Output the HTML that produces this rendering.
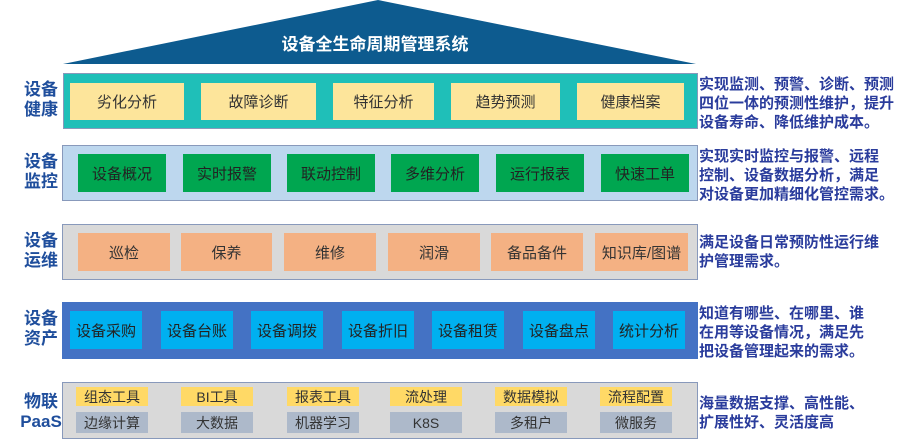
<!DOCTYPE html>
<html><head><meta charset="utf-8"><style>
body{margin:0;width:901px;height:442px;background:#fff;position:relative;overflow:hidden;font-family:"Liberation Sans","Noto Sans CJK SC",sans-serif}
div{position:absolute;box-sizing:border-box}
.b{display:flex;align-items:center;justify-content:center;font-size:15px;color:#333}
.row{border:1px solid #8899bb}
.lab{left:18px;width:46px;font-size:17px;font-weight:bold;color:#1f4e9c;line-height:20px;text-align:center}
.r{left:699px;font-size:15px;font-weight:bold;color:#2a3c9c;line-height:19px;width:202px;white-space:nowrap}
.y{background:#fde59b}.g{background:#00a650;color:#222}.o{background:#f4b183}.c{background:#00b0f0;color:#222}
.t{background:#ffd966;font-size:14px}.s{background:#adb9ca;font-size:14px}
</style></head><body>
<svg style="position:absolute;left:0;top:0" width="901" height="70"><polygon points="63,64 378,0 696,64" fill="#0d5b8f"/></svg>
<div style="left:225px;top:30px;width:300px;text-align:center;color:#fff;font-size:17px;font-weight:bold">设备全生命周期管理系统</div>

<div class="lab" style="top:80px">设备<br>健康</div>
<div class="row" style="left:63px;top:73px;width:635px;height:56px;background:#1fbfb8"></div>
<div class="b y" style="left:70px;top:83px;width:114px;height:37px">劣化分析</div>
<div class="b y" style="left:201px;top:83px;width:115px;height:37px">故障诊断</div>
<div class="b y" style="left:333px;top:83px;width:101px;height:37px">特征分析</div>
<div class="b y" style="left:451px;top:83px;width:109px;height:37px">趋势预测</div>
<div class="b y" style="left:577px;top:83px;width:107px;height:37px">健康档案</div>
<div class="r" style="top:75px">实现监测、预警、诊断、预测<br>四位一体的预测性维护，提升<br>设备寿命、降低维护成本。</div>

<div class="lab" style="top:152px">设备<br>监控</div>
<div class="row" style="left:62px;top:145px;width:636px;height:56px;background:#bdd7ee"></div>
<div class="b g" style="left:78px;top:154px;width:88px;height:38px">设备概况</div>
<div class="b g" style="left:183px;top:154px;width:88px;height:38px">实时报警</div>
<div class="b g" style="left:287px;top:154px;width:88px;height:38px">联动控制</div>
<div class="b g" style="left:391px;top:154px;width:88px;height:38px">多维分析</div>
<div class="b g" style="left:496px;top:154px;width:88px;height:38px">运行报表</div>
<div class="b g" style="left:601px;top:154px;width:88px;height:38px">快速工单</div>
<div class="r" style="top:147px">实现实时监控与报警、远程<br>控制、设备数据分析，满足<br>对设备更加精细化管控需求。</div>

<div class="lab" style="top:231px">设备<br>运维</div>
<div class="row" style="left:62px;top:224px;width:636px;height:56px;background:#d9d9d9"></div>
<div class="b o" style="left:78px;top:233px;width:92px;height:38px">巡检</div>
<div class="b o" style="left:181px;top:233px;width:91px;height:38px">保养</div>
<div class="b o" style="left:284px;top:233px;width:92px;height:38px">维修</div>
<div class="b o" style="left:388px;top:233px;width:92px;height:38px">润滑</div>
<div class="b o" style="left:491px;top:233px;width:92px;height:38px">备品备件</div>
<div class="b o" style="left:595px;top:233px;width:93px;height:38px">知识库/图谱</div>
<div class="r" style="top:233px">满足设备日常预防性运行维<br>护管理需求。</div>

<div class="lab" style="top:309px">设备<br>资产</div>
<div class="row" style="left:62px;top:302px;width:636px;height:57px;background:#4472c4;border-color:#4472c4"></div>
<div class="b c" style="left:70px;top:311px;width:72px;height:38px">设备采购</div>
<div class="b c" style="left:161px;top:311px;width:72px;height:38px">设备台账</div>
<div class="b c" style="left:251px;top:311px;width:72px;height:38px">设备调拨</div>
<div class="b c" style="left:342px;top:311px;width:72px;height:38px">设备折旧</div>
<div class="b c" style="left:432px;top:311px;width:72px;height:38px">设备租赁</div>
<div class="b c" style="left:523px;top:311px;width:72px;height:38px">设备盘点</div>
<div class="b c" style="left:613px;top:311px;width:72px;height:38px">统计分析</div>
<div class="r" style="top:304px">知道有哪些、在哪里、谁<br>在用等设备情况，满足先<br>把设备管理起来的需求。</div>

<div class="lab" style="top:392px">物联<br>PaaS</div>
<div class="row" style="left:62px;top:382px;width:636px;height:57px;background:#d9d9d9"></div>
<div class="b t" style="left:76px;top:387px;width:72px;height:19px">组态工具</div>
<div class="b t" style="left:181px;top:387px;width:72px;height:19px">BI工具</div>
<div class="b t" style="left:287px;top:387px;width:72px;height:19px">报表工具</div>
<div class="b t" style="left:390px;top:387px;width:72px;height:19px">流处理</div>
<div class="b t" style="left:495px;top:387px;width:72px;height:19px">数据模拟</div>
<div class="b t" style="left:600px;top:387px;width:72px;height:19px">流程配置</div>
<div class="b s" style="left:76px;top:412px;width:72px;height:21px">边缘计算</div>
<div class="b s" style="left:181px;top:412px;width:72px;height:21px">大数据</div>
<div class="b s" style="left:287px;top:412px;width:72px;height:21px">机器学习</div>
<div class="b s" style="left:390px;top:412px;width:72px;height:21px">K8S</div>
<div class="b s" style="left:495px;top:412px;width:72px;height:21px">多租户</div>
<div class="b s" style="left:600px;top:412px;width:72px;height:21px">微服务</div>
<div class="r" style="top:394px">海量数据支撑、高性能、<br>扩展性好、灵活度高</div>
</body></html>
